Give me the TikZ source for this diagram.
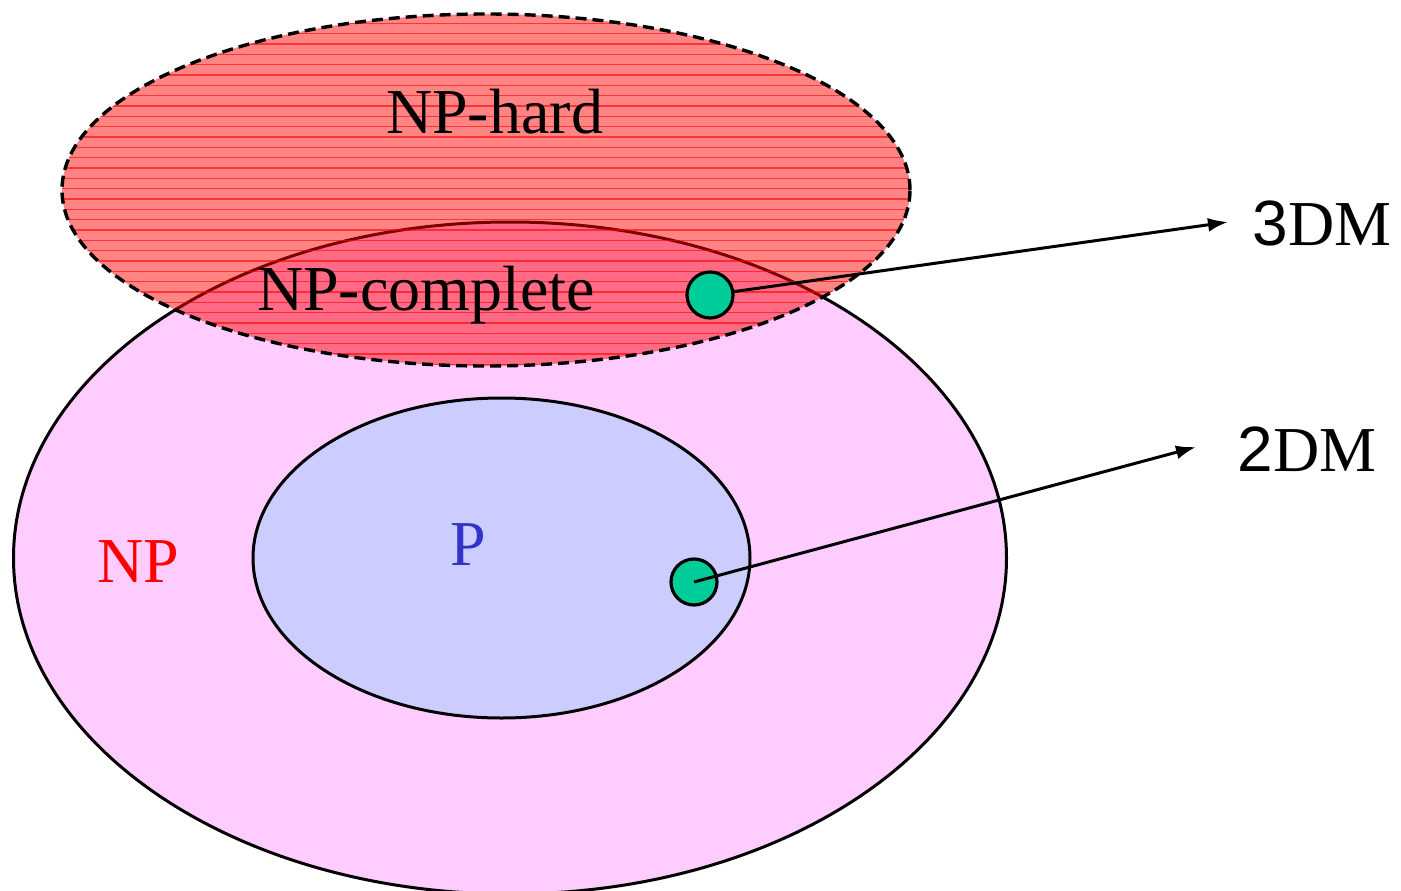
\documentclass[tikz,border=0pt]{standalone}
\usepackage{fontspec}
\setmainfont{Liberation Serif}
\newfontfamily\digitfont{Liberation Sans}
\newfontfamily\dmfont{Liberation Serif}
\usetikzlibrary{shapes.geometric,arrows.meta}
\definecolor{npfill}{RGB}{255,204,255}
\definecolor{pfill}{RGB}{204,204,255}
\definecolor{dotgreen}{RGB}{0,204,153}
\definecolor{pblue}{RGB}{51,51,204}
\tikzset{
  setell/.style={ellipse, inner sep=0pt, line width=3pt},
  dotnode/.style={circle, draw=black, fill=dotgreen, line width=3.2pt, minimum size=46pt, inner sep=0pt},
  bigtext/.style={font=\fontsize{64}{70}\selectfont, inner sep=0pt, anchor=base west},
  conn/.style={line width=3pt, -{Latex[length=20pt,width=14pt]}}
}
\begin{document}
\begin{tikzpicture}[x=1pt,y=-1pt]
\useasboundingbox (0,0) rectangle (1401,891);
% NP
\node[setell, draw=black, fill=npfill, minimum width=993pt, minimum height=672pt] (np) at (510,558) {};
% P
\node[setell, draw=black, fill=pfill, minimum width=497pt, minimum height=320pt] (p) at (501.5,558) {};
% NP-hard
\node[setell, fill=red, fill opacity=0.48, minimum width=848pt, minimum height=352pt] (nph) at (486,190) {};
\begin{scope}
  \clip (486,190) ellipse [x radius=424, y radius=176];
  \foreach \k in {0,...,35} {
    \draw[red, line width=1.4pt, opacity=0.6] (50,{13+10.33*\k}) -- (920,{13+10.33*\k});
  }
\end{scope}
\node[setell, draw=black, dash pattern=on 11pt off 6pt, line width=3.4pt, minimum width=848pt, minimum height=352pt] (nphb) at (486,190) {};
% texts
\node[bigtext] (thard) at (386,133) {NP-hard};
\node[bigtext] (tcomp) at (257,310) {NP-complete};
\node[bigtext, text=red] (tnp) at (97,582) {NP};
\node[bigtext, text=pblue] (tp) at (450,565) {P};
\node[bigtext, font=\fontsize{64}{70}\digitfont] (t3n) at (1252,245) {3};
\node[bigtext, font=\fontsize{64}{70}\dmfont] (t3) at (t3n.base east) {DM};
\node[bigtext, font=\fontsize{64}{70}\digitfont] (t2n) at (1237,471) {2};
\node[bigtext, font=\fontsize{64}{70}\dmfont] (t2) at (t2n.base east) {DM};
% connectors
\coordinate (a3) at (1228,222);
\coordinate (a2) at (1196,447);
\draw[conn] (710,295) -- (a3);
\node[dotnode] (d3) at (710,295) {};
\node[dotnode] (d2) at (694,582) {};
\draw[conn] (d2.center) -- (a2);
\end{tikzpicture}
\end{document}
